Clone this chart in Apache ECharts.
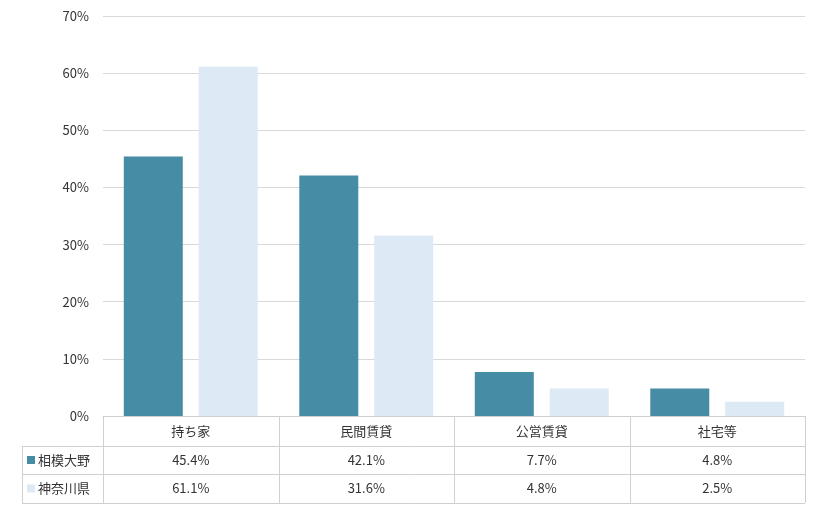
<!DOCTYPE html>
<html lang="ja">
<head>
<meta charset="UTF-8">
<script src="https://cdn.jsdelivr.net/npm/echarts@6/dist/echarts.min.js"></script>
<style>html,body{margin:0;background:#fff}#main{width:820px;height:510px}</style>
</head>
<body>
<div id="main"></div>
<script>
var categories = ['持ち家', '民間賃貸', '公営賃貸', '社宅等'];
var seriesNames = ['相模大野', '神奈川県'];
var sagamiono = [45.4, 42.1, 7.7, 4.8];
var kanagawa = [61.1, 31.6, 4.8, 2.5];
var colors = ['#468ca5', '#dde9f5'];

var font = '"Noto Sans CJK JP", sans-serif';
var L = 103, R = 805, B = 416, rowH = [30, 28, 29];
var fmt = function (v) { return v.toFixed(1) + '%'; };

// table grid lines
var g = [];
var lineStyle = { stroke: '#d0d0d0', lineWidth: 1 };
var y1 = B + rowH[0], y2 = y1 + rowH[1], y3 = y2 + rowH[2];
[[L, B], [22, y1], [22, y2], [22, y3]].forEach(function (p) {
    g.push({ type: 'line', shape: { x1: p[0], y1: p[1] + 0.5, x2: R, y2: p[1] + 0.5 }, style: lineStyle });
});
for (var i = 0; i <= categories.length; i++) {
    var x = Math.round(L + (R - L) * i / categories.length) + 0.5;
    g.push({ type: 'line', shape: { x1: x, y1: B, x2: x, y2: y3 }, style: lineStyle });
}
g.push({ type: 'line', shape: { x1: 22.5, y1: y1, x2: 22.5, y2: y3 }, style: lineStyle });
[y1, y2].forEach(function (yy, k) {
    g.push({ type: 'rect', shape: { x: 27, y: yy + rowH[k + 1] / 2 - 4, width: 8, height: 8 }, style: { fill: colors[k] } });
    g.push({ type: 'text', x: 38, y: yy + rowH[k + 1] / 2, style: { text: seriesNames[k], fill: '#333', font: '13px ' + font, verticalAlign: 'middle' } });
});

var axisBase = { type: 'category', position: 'bottom', axisLine: { show: false }, axisTick: { show: false } };
var chart = echarts.init(document.getElementById('main'));
chart.setOption({
    animation: false,
    textStyle: { fontFamily: font },
    grid: { left: L, right: 820 - R, top: 16, bottom: 510 - B },
    xAxis: [
        Object.assign({}, axisBase, { data: categories, axisLine: { show: true, lineStyle: { color: '#d0d0d0' } }, axisLabel: { color: '#333', fontSize: 13, margin: 9 } }),
        Object.assign({}, axisBase, { data: sagamiono.map(fmt), offset: rowH[0], axisLabel: { color: '#333', fontSize: 13, margin: 8 } }),
        Object.assign({}, axisBase, { data: kanagawa.map(fmt), offset: rowH[0] + rowH[1], axisLabel: { color: '#333', fontSize: 13, margin: 8 } })
    ],
    yAxis: {
        type: 'value', min: 0, max: 70, interval: 10,
        axisLabel: { formatter: '{value}%', color: '#333', fontSize: 13, margin: 14 },
        splitLine: { lineStyle: { color: '#d9d9d9' } },
        axisLine: { show: false }, axisTick: { show: false }
    },
    series: [
        { name: seriesNames[0], type: 'bar', data: sagamiono, barWidth: 59, barGap: '27%', itemStyle: { color: colors[0] } },
        { name: seriesNames[1], type: 'bar', data: kanagawa, barWidth: 59, itemStyle: { color: colors[1] } }
    ],
    graphic: g
});
</script>
</body>
</html>
